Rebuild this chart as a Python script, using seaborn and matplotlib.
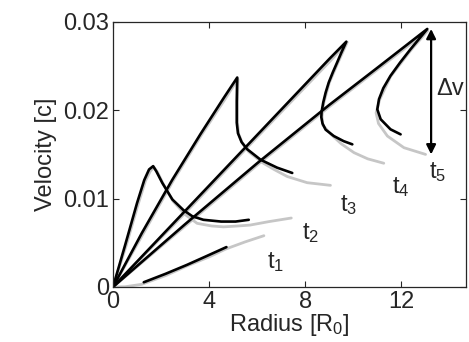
import matplotlib
matplotlib.use("Agg")
import matplotlib.pyplot as plt
import seaborn as sns

sns.set_style("ticks")
plt.rcParams['font.family'] = ['Liberation Sans', 'DejaVu Sans']
plt.rcParams['mathtext.default'] = 'regular'

# ---- data ----
# simulation (black) curves
t1_bx = [1.28, 2.2, 3.08, 3.9, 4.72]
t1_by = [0.00053, 0.0015, 0.0025, 0.0035, 0.00451]
t2_bx = [0, 0.5, 1.0, 1.3, 1.5, 1.67, 1.8, 2.05, 2.47, 2.93, 3.3, 3.76, 4.5, 5.1, 5.65]
t2_by = [0, 0.0047, 0.0095, 0.0121, 0.0133, 0.01367, 0.0131, 0.01178, 0.0099, 0.0087, 0.008, 0.0076, 0.0074, 0.0074, 0.0076]
t3_bx = [0, 1.2, 2.46, 3.64, 4.61, 4.95, 5.17, 5.16, 5.15, 5.15, 5.2, 5.35, 5.58, 6.14, 6.83, 7.46]
t3_by = [0, 0.0061, 0.0121, 0.0173, 0.0214, 0.0228, 0.0237, 0.0225, 0.021, 0.0186, 0.0174, 0.0164, 0.0156, 0.0144, 0.0135, 0.0129]
t4_bx = [0, 3.0, 6.0, 9.0, 9.71, 9.5, 9.33, 9.15, 8.98, 8.85, 8.75, 8.68, 8.67, 8.72, 8.85, 9.19, 9.6, 9.96]
t4_by = [0, 0.0086, 0.0172, 0.0258, 0.02776, 0.0265, 0.02542, 0.0243, 0.02315, 0.022, 0.02088, 0.0198, 0.0192, 0.0185, 0.0178, 0.01708, 0.0165, 0.01614]
t5_bx = [0, 3.0, 6.0, 9.0, 11.0, 13.08, 12.39, 11.95, 11.55, 11.25, 11.07, 11.0, 11.14, 11.55, 11.97]
t5_by = [0, 0.0071, 0.014, 0.0206, 0.0248, 0.0292, 0.02693, 0.0254, 0.0239, 0.0225, 0.02125, 0.0201, 0.01898, 0.01784, 0.01727]

# model (gray) curves
t1_gx = [0, 0.5, 1.2, 2.2, 3.1, 4.0, 4.7, 5.5, 6.28]
t1_gy = [0, 0.00002, 0.0003, 0.0013, 0.0024, 0.0034, 0.0043, 0.0051, 0.0058]
t2_gx = [0, 0.55, 1.05, 1.35, 1.55, 1.7, 1.85, 2.1, 2.5, 3.0, 3.5, 4.1, 4.6, 5.2, 5.7, 6.5, 7.42]
t2_gy = [0, 0.0047, 0.0094, 0.012, 0.0131, 0.01355, 0.013, 0.0116, 0.0097, 0.0082, 0.0072, 0.0069, 0.0068, 0.0069, 0.007, 0.0074, 0.0078]
t3_gx = [0, 1.25, 2.5, 3.68, 4.65, 5.0, 5.2, 5.19, 5.18, 5.18, 5.23, 5.38, 5.65, 6.2, 6.7, 7.25, 8.08, 9.05]
t3_gy = [0, 0.006, 0.012, 0.0172, 0.0212, 0.0227, 0.0235, 0.0224, 0.0209, 0.0186, 0.0173, 0.0163, 0.0153, 0.0141, 0.0133, 0.0125, 0.0118, 0.0115]
t4_gx = [0, 3.05, 6.05, 9.05, 9.75, 9.35, 9.0, 8.77, 8.7, 8.73, 9.1, 9.5, 10.03, 10.6, 11.27]
t4_gy = [0, 0.0085, 0.0171, 0.0256, 0.0277, 0.0253, 0.0231, 0.0208, 0.0193, 0.0183, 0.0172, 0.0162, 0.0152, 0.0145, 0.0140]
t5_gx = [0, 3.05, 6.05, 9.05, 11.05, 13.1, 12.4, 11.55, 11.1, 10.95, 11.05, 11.42, 12.11, 13.01]
t5_gy = [0, 0.007, 0.0139, 0.0205, 0.0247, 0.029, 0.0268, 0.0238, 0.0212, 0.0197, 0.0185, 0.01708, 0.01576, 0.015]

labels = ["t$_1$", "t$_2$", "t$_3$", "t$_4$", "t$_5$"]
label_x = [6.76, 8.22, 9.8, 11.97, 13.5]
label_y = [0.00284, 0.00614, 0.0093, 0.01136, 0.01295]

dv_x = 13.24
dv_top = 0.0292
dv_bot = 0.015

xticks = [0, 4, 8, 12]
yticks = [0, 0.01, 0.02, 0.03]
ytick_labels = ["0", "0.01", "0.02", "0.03"]

# ---- figure ----
fig = plt.figure(figsize=(4.69, 3.42), dpi=100)
ax = fig.add_axes([0.241, 0.161, 0.753, 0.775])

gray = "#c6c6c6"
grays = [(t1_gx, t1_gy), (t2_gx, t2_gy), (t3_gx, t3_gy), (t4_gx, t4_gy), (t5_gx, t5_gy)]
blacks = [(t1_bx, t1_by), (t2_bx, t2_by), (t3_bx, t3_by), (t4_bx, t4_by), (t5_bx, t5_by)]
for gx, gy in grays:
    sns.lineplot(x=gx, y=gy, sort=False, estimator=None, color=gray, lw=2.0, ax=ax)
for bx, by in blacks:
    sns.lineplot(x=bx, y=by, sort=False, estimator=None, color="black", lw=1.9, ax=ax)

fs = 17
for lab, lx, ly in zip(labels, label_x, label_y):
    ax.text(lx, ly, lab, fontsize=fs, ha="center", va="center")

ax.annotate("", xy=(dv_x, dv_bot), xytext=(dv_x, dv_top),
            arrowprops=dict(arrowstyle="<|-|>", color="black", lw=1.6,
                            mutation_scale=14, shrinkA=0, shrinkB=0))
ax.text(dv_x + 0.22, (dv_top + dv_bot) / 2 + 0.0003, "\u0394v", fontsize=fs,
        ha="left", va="center")

ax.set_xlim(0, 14.7)
ax.set_ylim(0, 0.03)
ax.set_xticks(xticks)
ax.set_xticklabels([str(t) for t in xticks])
ax.set_yticks(yticks)
ax.set_yticklabels(ytick_labels)
ax.tick_params(direction="in", top=True, right=True, length=4, width=0.8,
               labelsize=fs, pad=3)
for s in ax.spines.values():
    s.set_visible(True)
    s.set_linewidth(0.9)
ax.set_xlabel("Radius [R$_0$]", fontsize=fs, labelpad=-1)
ax.set_ylabel("Velocity [c]", fontsize=fs, labelpad=4)

fig.savefig("out.png", dpi=100)
